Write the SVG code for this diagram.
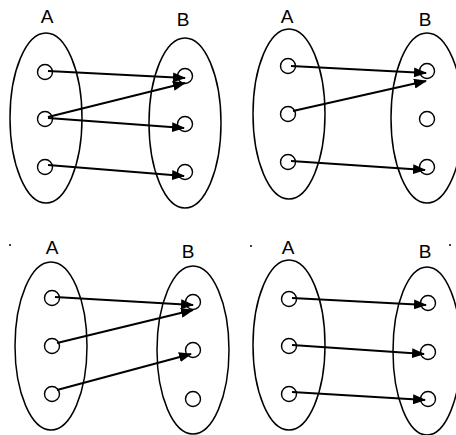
<svg xmlns="http://www.w3.org/2000/svg" width="456" height="435" viewBox="0 0 456 435">
<defs>
<marker id="ah" viewBox="0 0 13 10" refX="12" refY="5" markerWidth="13" markerHeight="10" markerUnits="userSpaceOnUse" orient="auto">
<path d="M0,0 L13,5 L0,10 z" fill="#000"/>
</marker>
<style>
.set{fill:none;stroke:#000;stroke-width:1.5}
.el{fill:#fff;stroke:#000;stroke-width:1.4}
.lbl{font-family:"Liberation Sans",Arial,sans-serif;font-size:19px;fill:#000;text-anchor:middle}
.ar{fill:none;stroke:#000;stroke-width:2;marker-end:url(#ah)}
</style>
</defs>
<rect width="456" height="435" fill="#fff"/>

<!-- Diagram 1 -->
<g id="d1-A"><text class="lbl" x="47" y="23">A</text><ellipse class="set" cx="46" cy="118" rx="36" ry="85"/></g>
<g id="d1-B"><text class="lbl" x="183" y="26">B</text><ellipse class="set" cx="185" cy="123" rx="36" ry="85"/></g>
<g id="d1-a1"><circle class="el" cx="45" cy="72" r="7.5"/></g>
<g id="d1-a2"><circle class="el" cx="45" cy="119" r="7.5"/></g>
<g id="d1-a3"><circle class="el" cx="45" cy="167" r="7.5"/></g>
<g id="d1-b1"><circle class="el" cx="185" cy="76" r="7.5"/></g>
<g id="d1-b2"><circle class="el" cx="185" cy="124" r="7.5"/></g>
<g id="d1-b3"><circle class="el" cx="185" cy="172" r="7.5"/></g>

<!-- Diagram 2 -->
<g id="d2-A"><text class="lbl" x="287" y="23">A</text><ellipse class="set" cx="289" cy="114" rx="36" ry="85"/></g>
<g id="d2-B"><text class="lbl" x="425" y="26">B</text><ellipse class="set" cx="427" cy="118" rx="36" ry="85"/></g>
<g id="d2-a1"><circle class="el" cx="288" cy="66" r="7.5"/></g>
<g id="d2-a2"><circle class="el" cx="288" cy="114" r="7.5"/></g>
<g id="d2-a3"><circle class="el" cx="288" cy="162" r="7.5"/></g>
<g id="d2-b1"><circle class="el" cx="427" cy="71" r="7.5"/></g>
<g id="d2-b2"><circle class="el" cx="427" cy="119" r="7.5"/></g>
<g id="d2-b3"><circle class="el" cx="427" cy="167" r="7.5"/></g>

<!-- Diagram 3 -->
<circle cx="10" cy="245" r="1" fill="#000"/>
<g id="d3-A"><text class="lbl" x="52" y="254">A</text><ellipse class="set" cx="51" cy="346" rx="36" ry="84"/></g>
<g id="d3-B"><text class="lbl" x="188" y="258">B</text><ellipse class="set" cx="193" cy="350" rx="36" ry="84"/></g>
<g id="d3-a1"><circle class="el" cx="52" cy="298" r="7.5"/></g>
<g id="d3-a2"><circle class="el" cx="52" cy="346" r="7.5"/></g>
<g id="d3-a3"><circle class="el" cx="52" cy="394" r="7.5"/></g>
<g id="d3-b1"><circle class="el" cx="193" cy="302" r="7.5"/></g>
<g id="d3-b2"><circle class="el" cx="193" cy="350" r="7.5"/></g>
<g id="d3-b3"><circle class="el" cx="193" cy="399" r="7.5"/></g>

<!-- Diagram 4 -->
<circle cx="251" cy="246" r="1" fill="#000"/>
<circle cx="450" cy="245" r="1" fill="#000"/>
<g id="d4-A"><text class="lbl" x="288" y="254">A</text><ellipse class="set" cx="289" cy="345" rx="36" ry="85"/></g>
<g id="d4-B"><text class="lbl" x="425" y="258">B</text><ellipse class="set" cx="427" cy="351" rx="34" ry="84"/></g>
<g id="d4-a1"><circle class="el" cx="289" cy="299" r="7.5"/></g>
<g id="d4-a2"><circle class="el" cx="289" cy="346" r="7.5"/></g>
<g id="d4-a3"><circle class="el" cx="289" cy="394" r="7.5"/></g>
<g id="d4-b1"><circle class="el" cx="428" cy="303" r="7.5"/></g>
<g id="d4-b2"><circle class="el" cx="428" cy="352" r="7.5"/></g>
<g id="d4-b3"><circle class="el" cx="428" cy="399" r="7.5"/></g>

<g id="connectors">
<line class="ar" x1="48" y1="71" x2="185" y2="78"/>
<line class="ar" x1="48" y1="117" x2="185" y2="83"/>
<line class="ar" x1="48" y1="118" x2="184" y2="128"/>
<line class="ar" x1="48" y1="165" x2="184" y2="176"/>

<line class="ar" x1="291" y1="66" x2="426" y2="73"/>
<line class="ar" x1="293" y1="111" x2="426" y2="81"/>
<line class="ar" x1="291" y1="161" x2="425" y2="170"/>

<line class="ar" x1="55" y1="297" x2="193" y2="305"/>
<line class="ar" x1="57" y1="343" x2="193" y2="310"/>
<line class="ar" x1="57" y1="390" x2="191" y2="354"/>

<line class="ar" x1="292" y1="298" x2="426" y2="305"/>
<line class="ar" x1="292" y1="345" x2="424" y2="354"/>
<line class="ar" x1="292" y1="392" x2="425" y2="400"/>
</g>
</svg>
